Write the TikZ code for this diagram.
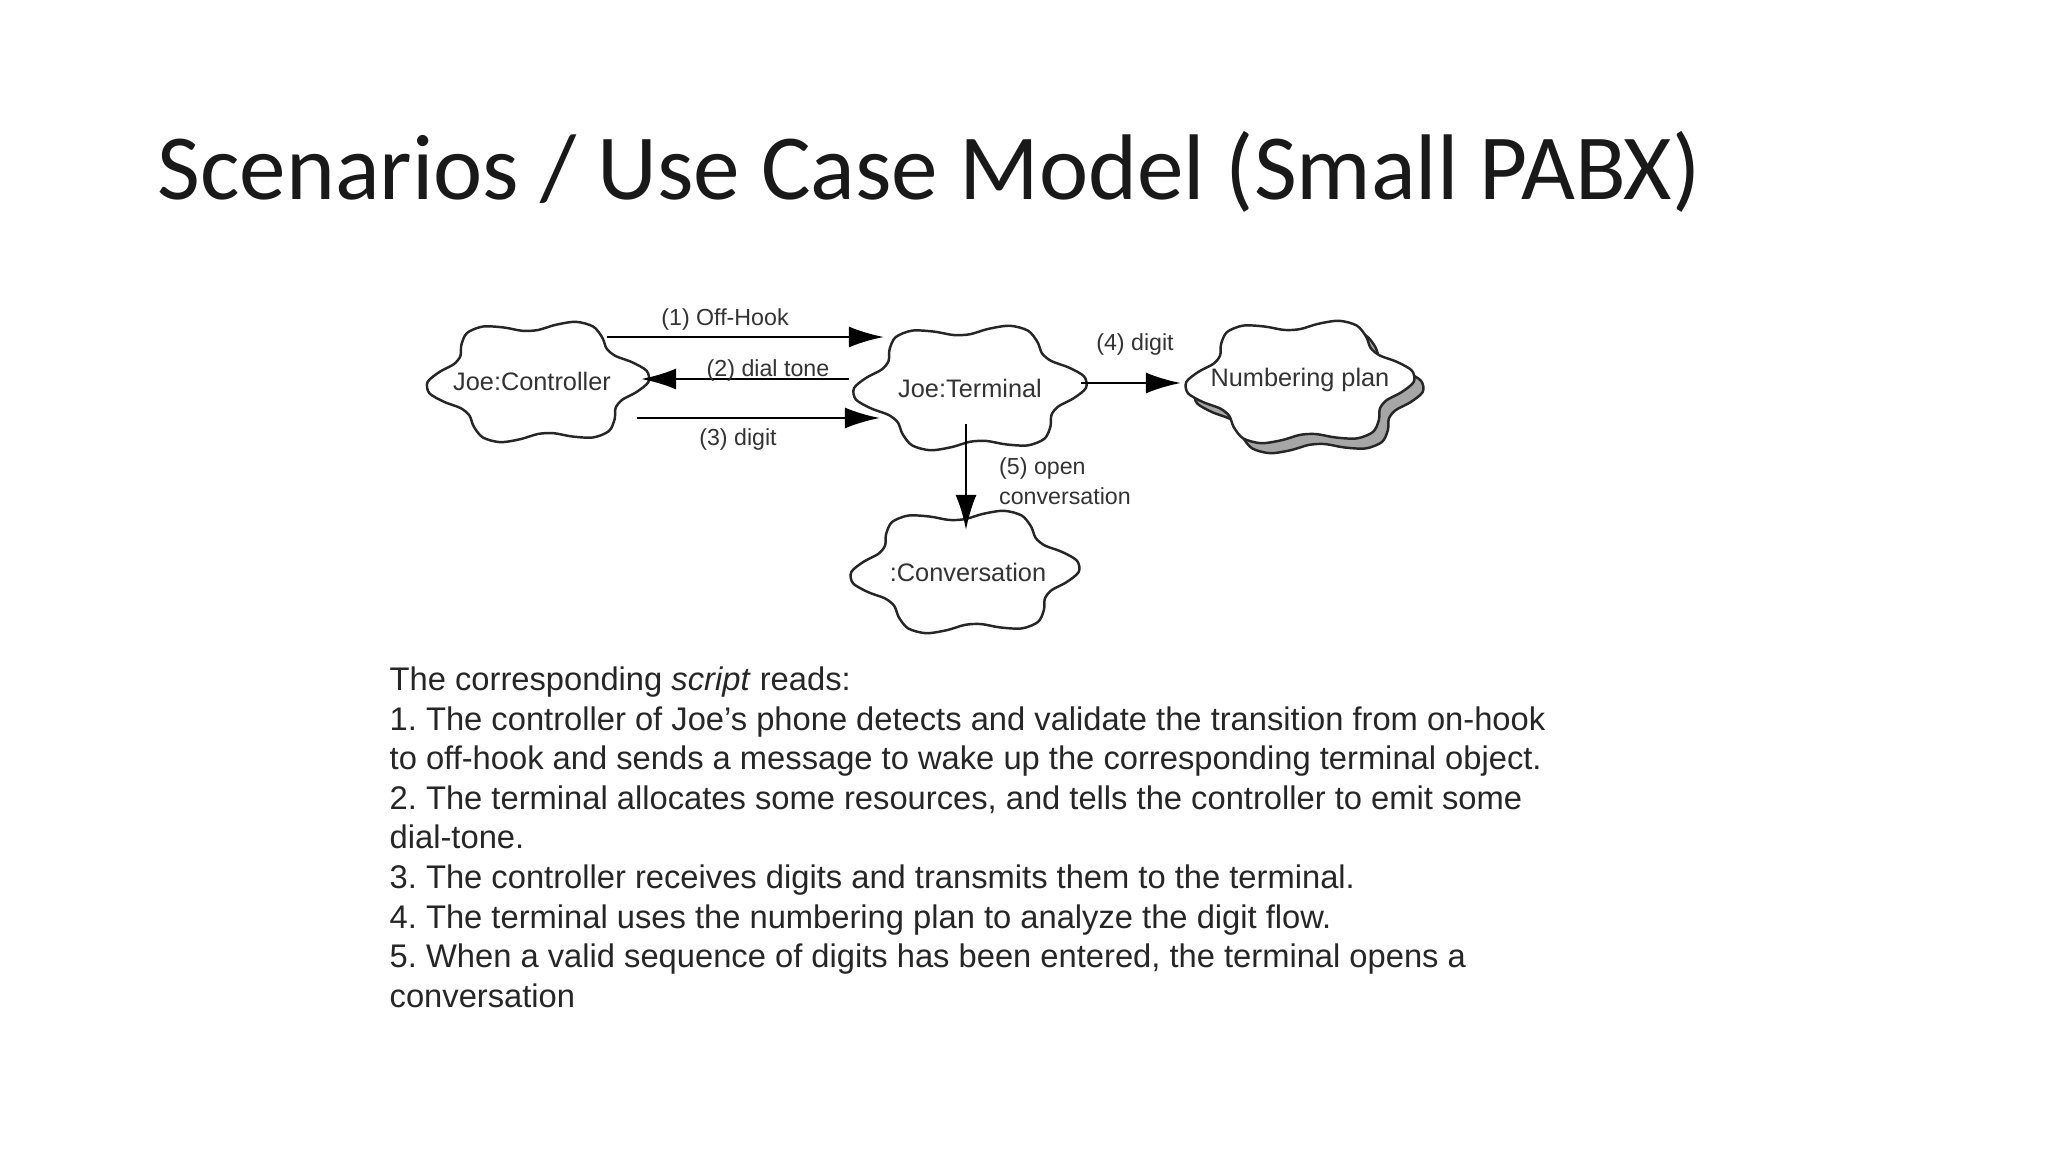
\documentclass[tikz,border=0pt]{standalone}
\usepackage{fontspec}
\setmainfont{Liberation Sans}
\newfontfamily\titlefont{Carlito}
\usetikzlibrary{arrows.meta}
\frenchspacing
\newcommand\cloudblob[5][white]{%
 \filldraw[fill=#1,draw=black!85,line width=0.7pt] plot[smooth cycle,domain=0:350,samples=36,variable=\t]
  ({#2+#4*(1+0.12*cos(6*\t+30))*cos(\t)},{#3+#5*(1+0.12*cos(6*\t+30))*sin(\t)});}
\tikzset{
 lbl/.style={font=\fontsize{6.6}{7.5}\selectfont,text=black!80,inner sep=1pt},
 msg/.style={line width=0.8pt,-{Latex[length=10pt,width=6pt]}},
 body/.style={font=\fontsize{9.3}{11}\selectfont,text=black!85,anchor=base west,inner sep=0pt}
}
\begin{document}
\begin{tikzpicture}[x=0.01cm,y=-0.01cm]
\useasboundingbox[fill=white] (0,0) rectangle (2048,1152);
\node[font=\titlefont\fontsize{26.5}{30}\selectfont,text=black!90,anchor=base west,inner sep=0pt] (title) at (157,200) {Scenarios / Use Case Model (Small PABX)};
% clouds
\cloudblob{538}{382}{100}{58}
\cloudblob{970}{388}{105}{60}
\cloudblob[black!35]{1309}{392}{103}{59}
\cloudblob{1300}{382}{103}{59}
\cloudblob{965}{572}{103}{59}
\node[lbl,font=\fontsize{7.2}{8}\selectfont] (ctrl) at (532,381) {Joe:Controller};
\node[lbl,font=\fontsize{7.2}{8}\selectfont] (term) at (970,388) {Joe:Terminal};
\node[lbl,font=\fontsize{7.2}{8}\selectfont] (plan) at (1300,380) {Numbering plan};
\node[lbl,font=\fontsize{7.2}{8}\selectfont] (conv) at (968,572) {:Conversation};
% arrow ends
\coordinate (a1s) at (607,337); \coordinate (a1e) at (884,337);
\coordinate (a2s) at (849,379); \coordinate (a2e) at (641,379);
\coordinate (a3s) at (637,418); \coordinate (a3e) at (880,418);
\coordinate (a4s) at (1081,383); \coordinate (a4e) at (1181,383);
\coordinate (a5s) at (966,424); \coordinate (a5e) at (966,530);
\draw[msg] (a1s) -- (a1e);
\draw[msg] (a2s) -- (a2e);
\draw[msg] (a3s) -- (a3e);
\draw[msg] (a4s) -- (a4e);
\draw[msg] (a5s) -- (a5e);
\node[lbl] (l1) at (725,319) {(1) Off-Hook};
\node[lbl] (l2) at (768,370) {(2) dial tone};
\node[lbl] (l3) at (738,440) {(3) digit};
\node[lbl] (l4) at (1135,345) {(4) digit};
\node[lbl,anchor=west,align=left,font=\fontsize{6.6}{8.5}\selectfont] (l5) at (995,481) {(5) open\\conversation};
% body text
\node[body] (t0) at (389,690) {The corresponding \textit{script} reads:};
\node[body] (t1) at (389,730) {1. The controller of Joe’s phone detects and validate the transition from on-hook};
\node[body] (t2) at (389,769) {to off-hook and sends a message to wake up the corresponding terminal object.};
\node[body] (t3) at (389,809) {2. The terminal allocates some resources, and tells the controller to emit some};
\node[body] (t4) at (389,848) {dial-tone.};
\node[body] (t5) at (389,888) {3. The controller receives digits and transmits them to the terminal.};
\node[body] (t6) at (389,928) {4. The terminal uses the numbering plan to analyze the digit flow.};
\node[body] (t7) at (389,967) {5. When a valid sequence of digits has been entered, the terminal opens a};
\node[body] (t8) at (389,1007) {conversation};
\end{tikzpicture}
\end{document}
